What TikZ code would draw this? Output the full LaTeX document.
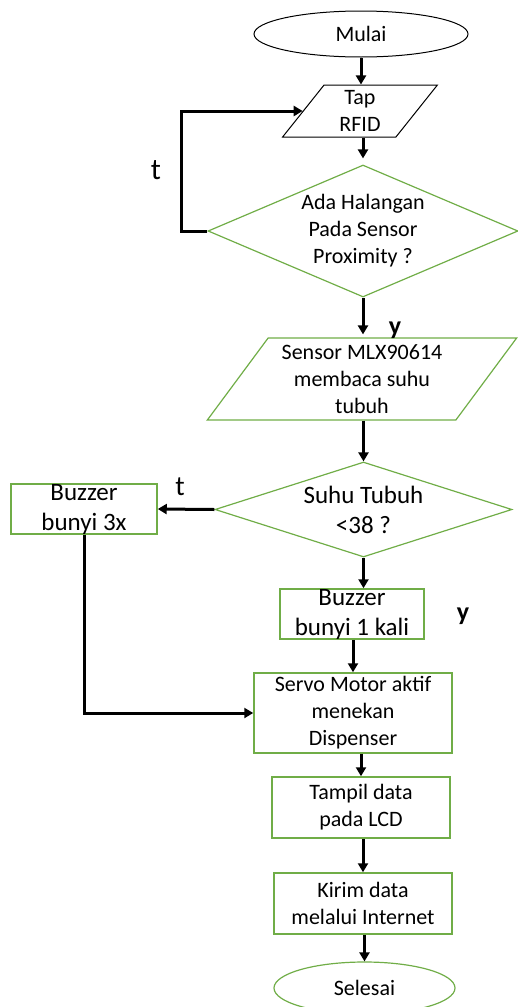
\documentclass[tikz,border=0pt]{standalone}
\usepackage{fontspec}
\setmainfont{Carlito}
\usetikzlibrary{shapes.geometric,arrows.meta}
\definecolor{flowgreen}{RGB}{112,173,71}

\begin{document}
\begin{tikzpicture}[x=1pt,y=-1pt,
  every node/.style={font=\fontsize{22}{27}\selectfont,align=center,inner sep=0pt},
  bigtext/.style={font=\fontsize{25}{30}\selectfont},
  terminal/.style={draw,ellipse,minimum width=#1,minimum height=46pt},
  inout/.style={draw,trapezium,trapezium stretches=true},
  decision/.style={draw=flowgreen,line width=1.2pt,diamond},
  process/.style={draw=flowgreen,line width=1.5pt,rectangle},
  flow/.style={line width=3pt,-{Triangle[length=9pt,width=10pt]}}]
\useasboundingbox (0,0) rectangle (518,1007);
\node[terminal=214pt,line width=1pt] (mulai) at (361,34) {Mulai};
\node[inout,line width=1pt,trapezium left angle=60,trapezium right angle=120,minimum width=156pt,minimum height=52pt] (tap) at (360,111) {Tap\\RFID};
\node[decision,shape aspect=2.35,minimum width=310pt,minimum height=132pt] (halangan) at (363,231) {Ada Halangan\\Pada Sensor\\Proximity ?};
\node[inout,draw=flowgreen,line width=1.2pt,trapezium left angle=53,trapezium right angle=127,minimum width=310pt,minimum height=82pt] (sensor) at (362,379) {Sensor MLX90614\\membaca suhu\\tubuh};
\node[decision,bigtext,shape aspect=3.13,minimum width=297pt,minimum height=95pt] (suhu) at (363.5,509.5) {Suhu Tubuh\\<38 ?};
\node[process,bigtext,inner ysep=-3pt,minimum width=146pt,minimum height=50pt] (buzzer3) at (84,509) {Buzzer\\bunyi 3x};
\node[process,bigtext,inner ysep=-3pt,minimum width=144pt,minimum height=50pt] (buzzer1) at (352,614) {Buzzer\\bunyi 1 kali};
\node[process,minimum width=198pt,minimum height=80pt] (servo) at (353,713) {Servo Motor aktif\\menekan\\Dispenser};
\node[process,minimum width=178pt,minimum height=61pt] (tampil) at (361,807.5) {Tampil data\\pada LCD};
\node[process,minimum width=178pt,minimum height=61pt] (kirim) at (363,903.5) {Kirim data\\melalui Internet};
\node[terminal=181pt,draw=flowgreen,line width=1.2pt,minimum height=52pt] (selesai) at (364.5,988) {Selesai};
% label cabang
\node[font=\fontsize{30}{30}\selectfont] (tatas) at (156,170) {t};
\node[font=\bfseries\fontsize{26}{26}\selectfont] (yatas) at (395,330) {y};
\node[font=\fontsize{28}{28}\selectfont] (tbawah) at (180,487) {t};
\node[font=\bfseries\fontsize{26}{26}\selectfont] (ybawah) at (463,616) {y};
% alur
\draw[flow] (mulai.south) -- (mulai.south |- tap.north);
\draw[flow,shorten >=6pt] (halangan.north |- tap.south) -- (halangan.north);
\draw[flow,shorten >=3pt] (halangan.south) -- (halangan.south |- sensor.north);
\draw[flow] (halangan.west) -- ++(-26,0) |- (tap.west);
\draw[flow] (sensor.south -| suhu.north) -- (suhu.north);
\draw[flow] (suhu.west) -- (buzzer3.east);
\draw[flow] (suhu.south) -- (suhu.south |- buzzer1.north);
\draw[flow] (buzzer1.south -| servo.north) -- (servo.north);
\draw[flow] (buzzer3.south) |- (servo.west);
\draw[flow] (servo.south -| tampil.north) -- (tampil.north);
\draw[flow] (tampil.south -| kirim.north) -- (kirim.north);
\draw[flow] (kirim.south -| selesai.north) -- (selesai.north);
\end{tikzpicture}
\end{document}
